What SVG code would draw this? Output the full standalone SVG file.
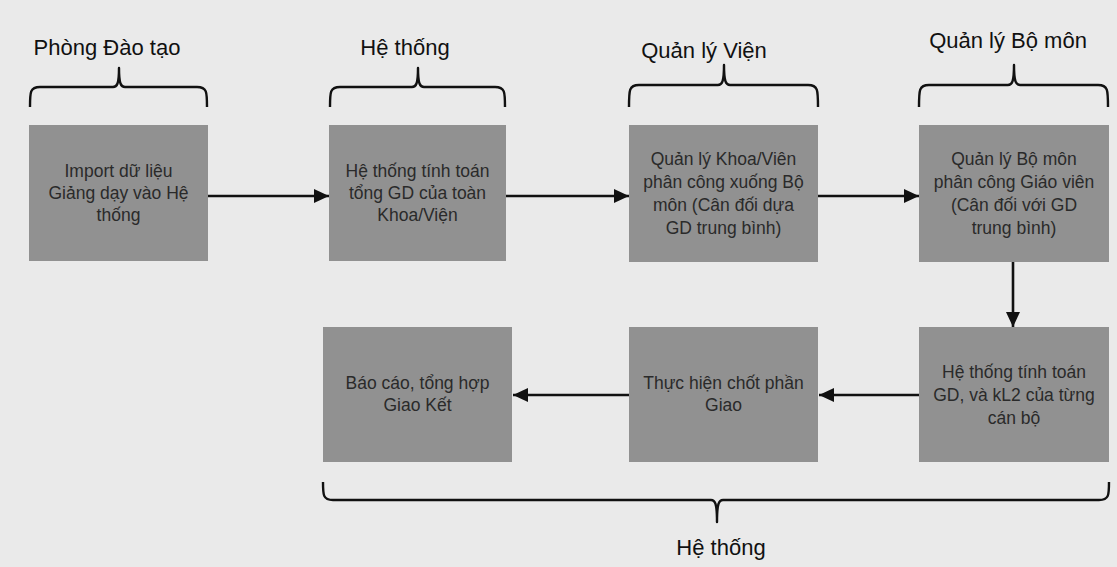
<svg xmlns="http://www.w3.org/2000/svg" width="1117" height="567" viewBox="0 0 1117 567">
<defs>
<style>
.bg{fill:#eaeaea}
.box{fill:#919191}
.bt{font-family:"Liberation Sans",Arial,sans-serif;font-size:17.5px;fill:#2a2a2a;text-anchor:middle}
.lbl{font-family:"Liberation Sans",Arial,sans-serif;font-size:22px;fill:#111;text-anchor:middle}
.conn{stroke:#111;stroke-width:2.6;fill:none}
.brace{stroke:#111;stroke-width:2.4;fill:none;stroke-linejoin:round}
</style>
<marker id="ah" markerUnits="userSpaceOnUse" markerWidth="16" markerHeight="16" refX="15" refY="7" orient="auto">
<path d="M0,0 L15,7 L0,14 Z" fill="#111"/>
</marker>
</defs>
<rect class="bg" x="0" y="0" width="1117" height="567"/>

<g id="label-phong-dao-tao"><text class="lbl" x="107" y="55">Phòng Đào tạo</text>
<path class="brace" d="M30,107 C30,92 30,87 40,87 L113,87 C117,87 119,84 119,68 C119,84 121,87 125,87 L197,87 C207,87 207,92 207,107"/></g>
<g id="label-he-thong-top"><text class="lbl" x="405" y="55">Hệ thống</text>
<path class="brace" d="M330,107 C330,92 330,87 340,87 L412,87 C416,87 418,84 418,68 C418,84 420,87 424,87 L495,87 C505,87 505,92 505,107"/></g>
<g id="label-quan-ly-vien"><text class="lbl" x="704" y="58">Quản lý Viện</text>
<path class="brace" d="M629,107 C629,90 629,85 639,85 L718,85 C722,85 724,82 724,65 C724,82 726,85 730,85 L808,85 C818,85 818,90 818,107"/></g>
<g id="label-quan-ly-bo-mon"><text class="lbl" x="1008" y="48">Quản lý Bộ môn</text>
<path class="brace" d="M919,107 C919,90 919,85 929,85 L1008,85 C1012,85 1014,82 1014,65 C1014,82 1016,85 1020,85 L1098,85 C1108,85 1108,90 1108,107"/></g>
<g id="label-he-thong-bottom"><text class="lbl" x="721" y="555">Hệ thống</text>
<path class="brace" d="M323,482 C323,495 323,500 333,500 L711,500 C715,500 717,503 717,522 C717,503 719,500 723,500 L1099,500 C1109,500 1109,495 1109,482"/></g>

<g id="n1"><rect class="box" x="29" y="125" width="179" height="136"/>
<text class="bt" x="118.5" y="177">Import dữ liệu</text>
<text class="bt" x="118.5" y="199">Giảng dạy vào Hệ</text>
<text class="bt" x="118.5" y="221">thống</text></g>
<g id="n2"><rect class="box" x="329" y="125" width="177" height="136"/>
<text class="bt" x="417.5" y="177">Hệ thống tính toán</text>
<text class="bt" x="417.5" y="199">tổng GD của toàn</text>
<text class="bt" x="417.5" y="221">Khoa/Viện</text></g>
<g id="n3"><rect class="box" x="629" y="125" width="189" height="137"/>
<text class="bt" x="723.5" y="165">Quản lý Khoa/Viên</text>
<text class="bt" x="723.5" y="188">phân công xuống Bộ</text>
<text class="bt" x="723.5" y="211">môn (Cân đối dựa</text>
<text class="bt" x="723.5" y="234">GD trung bình)</text></g>
<g id="n4"><rect class="box" x="919" y="125" width="190" height="137"/>
<text class="bt" x="1014" y="165">Quản lý Bộ môn</text>
<text class="bt" x="1014" y="188">phân công Giáo viên</text>
<text class="bt" x="1014" y="211">(Cân đối với GD</text>
<text class="bt" x="1014" y="234">trung bình)</text></g>
<g id="n5"><rect class="box" x="919" y="327" width="190" height="135"/>
<text class="bt" x="1014" y="378">Hệ thống tính toán</text>
<text class="bt" x="1014" y="401">GD, và kL2 của từng</text>
<text class="bt" x="1014" y="424">cán bộ</text></g>
<g id="n6"><rect class="box" x="629" y="327" width="189" height="135"/>
<text class="bt" x="723.5" y="389">Thực hiện chốt phần</text>
<text class="bt" x="723.5" y="411">Giao</text></g>
<g id="n7"><rect class="box" x="323" y="327" width="189" height="135"/>
<text class="bt" x="417.5" y="389">Báo cáo, tổng hợp</text>
<text class="bt" x="417.5" y="411">Giao Kết</text></g>

<g id="connectors">
<line class="conn" x1="208" y1="196" x2="329" y2="196" marker-end="url(#ah)"/>
<line class="conn" x1="506" y1="196" x2="629" y2="196" marker-end="url(#ah)"/>
<line class="conn" x1="818" y1="196" x2="919" y2="196" marker-end="url(#ah)"/>
<line class="conn" x1="1013" y1="262" x2="1013" y2="327" marker-end="url(#ah)"/>
<line class="conn" x1="919" y1="395" x2="819" y2="395" marker-end="url(#ah)"/>
<line class="conn" x1="629" y1="395" x2="513" y2="395" marker-end="url(#ah)"/>
</g>
</svg>
